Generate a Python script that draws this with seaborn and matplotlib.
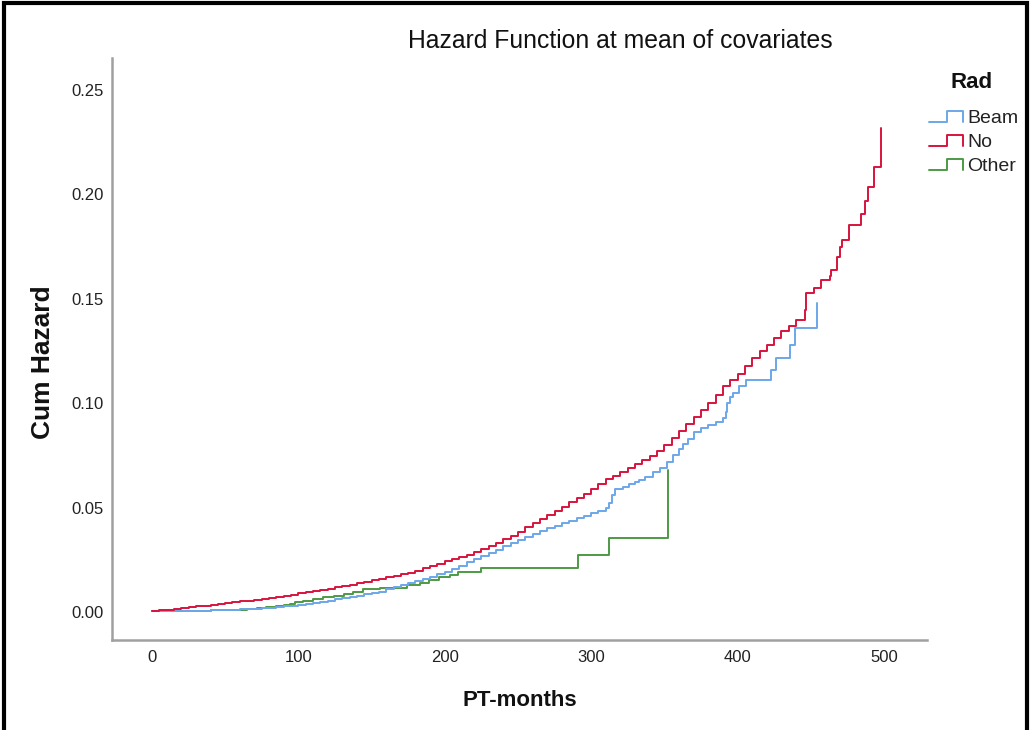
import matplotlib
matplotlib.use("Agg")
import numpy as np
import pandas as pd
import seaborn as sns
import matplotlib.pyplot as plt
from matplotlib.legend_handler import HandlerBase
from matplotlib.lines import Line2D
from matplotlib.patches import Rectangle
from matplotlib import font_manager

# ---- cumulative hazard estimates (step points) by radiation group ----
months_beam = [0, 10, 20, 30, 40, 50, 55, 60, 65, 70, 75, 80, 85, 90, 95, 100,
               105, 110, 115, 120, 125, 130, 135, 140, 145, 150, 155, 160, 165,
               170, 175, 180, 185, 190, 195, 200, 205, 210, 215, 220, 225, 230,
               235, 240, 245, 250, 255, 260, 265, 270, 275, 280, 285, 290, 295,
               300, 305, 310, 312, 314, 316, 322, 326, 330, 333, 337, 342, 347,
               352, 356, 360, 363, 366, 370, 375, 380, 385, 390, 392, 393, 395,
               397, 401, 406, 423, 426, 436, 439, 454.5]
hazard_beam = [0.0003, 0.0004, 0.0005, 0.0006, 0.0008, 0.0010, 0.0011, 0.0013,
               0.0015, 0.0016, 0.0019, 0.0021, 0.0024, 0.0027, 0.0031, 0.0034,
               0.0039, 0.0044, 0.0050, 0.0055, 0.0061, 0.0066, 0.0071, 0.0078,
               0.0084, 0.0091, 0.0098, 0.0108, 0.0119, 0.0129, 0.0139, 0.0148,
               0.0158, 0.0167, 0.0180, 0.0193, 0.0208, 0.0222, 0.0238, 0.0253,
               0.0268, 0.0284, 0.0299, 0.0314, 0.0329, 0.0344, 0.0359, 0.0374,
               0.0387, 0.0400, 0.0413, 0.0425, 0.0437, 0.0450, 0.0462, 0.0473,
               0.0485, 0.0500, 0.0520, 0.0560, 0.0590, 0.0600, 0.0612, 0.0622,
               0.0630, 0.0648, 0.0670, 0.0690, 0.0720, 0.0750, 0.0780, 0.0805,
               0.0830, 0.0864, 0.0880, 0.0895, 0.0910, 0.0930, 0.0960, 0.1000,
               0.1030, 0.1050, 0.1080, 0.1110, 0.1160, 0.1216, 0.1280, 0.1360,
               0.1480]

months_no = [0, 5, 10, 15, 20, 25, 30, 35, 40, 45, 50, 55, 60, 65, 70, 75, 80,
             85, 90, 95, 100, 105, 110, 115, 120, 125, 130, 135, 140, 145, 150,
             155, 160, 165, 170, 175, 180, 185, 190, 195, 200, 205, 210, 215,
             220, 225, 230, 235, 240, 245, 250, 255, 260, 265, 270, 275, 280,
             285, 290, 295, 300, 305, 310, 315, 320, 325, 330, 335, 340, 345,
             350, 355, 360, 365, 370, 375, 380, 385, 390, 395, 400, 405, 410,
             415, 420, 425, 430, 435, 440, 446, 447, 452, 457, 463, 464, 468,
             470, 471, 476, 484, 487, 489, 493, 497.7]
hazard_no = [0.0005, 0.0008, 0.0012, 0.0015, 0.0019, 0.0023, 0.0027, 0.0031,
             0.0035, 0.0039, 0.0043, 0.0047, 0.0051, 0.0055, 0.0059, 0.0063,
             0.0068, 0.0073, 0.0078, 0.0083, 0.0089, 0.0094, 0.0100, 0.0106,
             0.0112, 0.0118, 0.0124, 0.0130, 0.0137, 0.0144, 0.0151, 0.0158,
             0.0166, 0.0173, 0.0181, 0.0189, 0.0198, 0.0209, 0.0220, 0.0231,
             0.0242, 0.0253, 0.0264, 0.0275, 0.0287, 0.0300, 0.0315, 0.0331,
             0.0348, 0.0366, 0.0385, 0.0405, 0.0425, 0.0445, 0.0465, 0.0485,
             0.0505, 0.0525, 0.0545, 0.0567, 0.0590, 0.0613, 0.0635, 0.0653,
             0.0672, 0.0690, 0.0710, 0.0728, 0.0748, 0.0772, 0.0800, 0.0832,
             0.0865, 0.0900, 0.0935, 0.0968, 0.1000, 0.1040, 0.1080, 0.1110,
             0.1140, 0.1178, 0.1215, 0.1248, 0.1280, 0.1312, 0.1345, 0.1372,
             0.1400, 0.1446, 0.1530, 0.1550, 0.1590, 0.1610, 0.1638, 0.1700,
             0.1750, 0.1780, 0.1853, 0.1906, 0.1970, 0.2037, 0.2133, 0.2317]

months_other = [0, 20, 40, 55, 65, 72, 78, 85, 90, 94, 98, 103, 110, 117, 124,
                131, 137, 144, 156, 174, 183, 189, 196, 203.5, 209, 225, 291,
                312.4, 352.5]
hazard_other = [0.0003, 0.0005, 0.0009, 0.0012, 0.0016, 0.0020, 0.0024, 0.0030,
                0.0035, 0.0040, 0.0046, 0.0053, 0.0062, 0.0070, 0.0078, 0.0086,
                0.0097, 0.0109, 0.0117, 0.0129, 0.0140, 0.0153, 0.0166, 0.0177,
                0.0193, 0.0212, 0.0272, 0.0353, 0.0680]

groups = ["Beam", "No", "Other"]
x_ticks = [0, 100, 200, 300, 400, 500]
y_ticks = [0.00, 0.05, 0.10, 0.15, 0.20, 0.25]

colors = {"Beam": "#6ca7ea", "No": "#d7143d", "Other": "#4c9a43"}

df = pd.concat([
    pd.DataFrame({"PT-months": months_beam, "Cum Hazard": hazard_beam, "Rad": "Beam"}),
    pd.DataFrame({"PT-months": months_no, "Cum Hazard": hazard_no, "Rad": "No"}),
    pd.DataFrame({"PT-months": months_other, "Cum Hazard": hazard_other, "Rad": "Other"}),
], ignore_index=True)

sns.set_style("white")
available = {f.name for f in font_manager.fontManager.ttflist}
base_font = "Liberation Sans" if "Liberation Sans" in available else "DejaVu Sans"
plt.rcParams["font.family"] = [base_font, "DejaVu Sans"]

W, H = 1030, 730
fig = plt.figure(figsize=(W / 100, H / 100), dpi=100)
fig.patch.set_facecolor("white")
ax = fig.add_axes([112 / W, 1 - 640 / H, (927 - 112) / W, (640 - 58) / H])

sns.lineplot(data=df, x="PT-months", y="Cum Hazard", hue="Rad",
             hue_order=["Other", "Beam", "No"], palette=colors,
             estimator=None, drawstyle="steps-post", linewidth=1.4,
             legend=False, ax=ax)

ax.set_xlim(-27.3, 529.4)
ax.set_ylim(-0.0134, 0.2653)
ax.set_xticks(x_ticks)
ax.set_xticklabels([str(t) for t in x_ticks], fontsize=12, color="#222222")
ax.set_yticks(y_ticks)
ax.set_yticklabels([f"{t:.2f}" for t in y_ticks], fontsize=12, color="#222222")
ax.tick_params(axis="both", length=0)
ax.tick_params(axis="y", pad=6)
ax.tick_params(axis="x", pad=7)
ax.set_xlabel("")
ax.set_ylabel("")
for side in ("top", "right"):
    ax.spines[side].set_visible(False)
for side in ("left", "bottom"):
    ax.spines[side].set_color("#a0a0a0")
    ax.spines[side].set_linewidth(1.8)

fig.text(620 / W, 1 - 41 / H, "Hazard Function at mean of covariates",
         ha="center", va="center", fontsize=17.8, color="#111111")
fig.text(520 / W, 1 - 700 / H, "PT-months", ha="center", va="center",
         fontsize=16, fontweight="bold", color="#111111")
fig.text(43 / W, 1 - 362 / H, "Cum Hazard", ha="center", va="center",
         rotation=90, fontsize=19, fontweight="bold", color="#111111")

# legend heading
fig.text(972 / W, 1 - 82 / H, "Rad", ha="center", va="center",
         fontsize=16, fontweight="bold", color="#111111")


class StepHandler(HandlerBase):
    """Legend key drawn as a small step outline."""

    def create_artists(self, legend, orig_handle, xdescent, ydescent,
                       width, height, fontsize, trans):
        lo = -ydescent + 0.05 * height
        hi = -ydescent + 0.85 * height
        x0 = -xdescent
        xm = x0 + 0.52 * width
        x1 = x0 + width
        line = Line2D([x0, xm, xm, x1, x1], [lo, lo, hi, hi, lo],
                      color=orig_handle.get_color(), linewidth=1.4,
                      transform=trans)
        return [line]


handles = [Line2D([], [], color=colors[g]) for g in groups]
leg = fig.legend(handles, groups, loc="upper left",
                 bbox_to_anchor=(929 / W, 1 - 109 / H), frameon=False,
                 fontsize=14, handler_map={Line2D: StepHandler()},
                 handlelength=1.75, handletextpad=0.2, labelspacing=0.33,
                 borderpad=0, borderaxespad=0)
for t in leg.get_texts():
    t.set_color("#222222")

# thick frame around the chart
fig.patches.append(Rectangle((3.5 / W, -0.05), (1026.5 - 3.5) / W, 1.05 - 3.5 / H,
                             transform=fig.transFigure, fill=False,
                             edgecolor="black", linewidth=3, clip_on=False))

fig.savefig("out.png", dpi=100)
